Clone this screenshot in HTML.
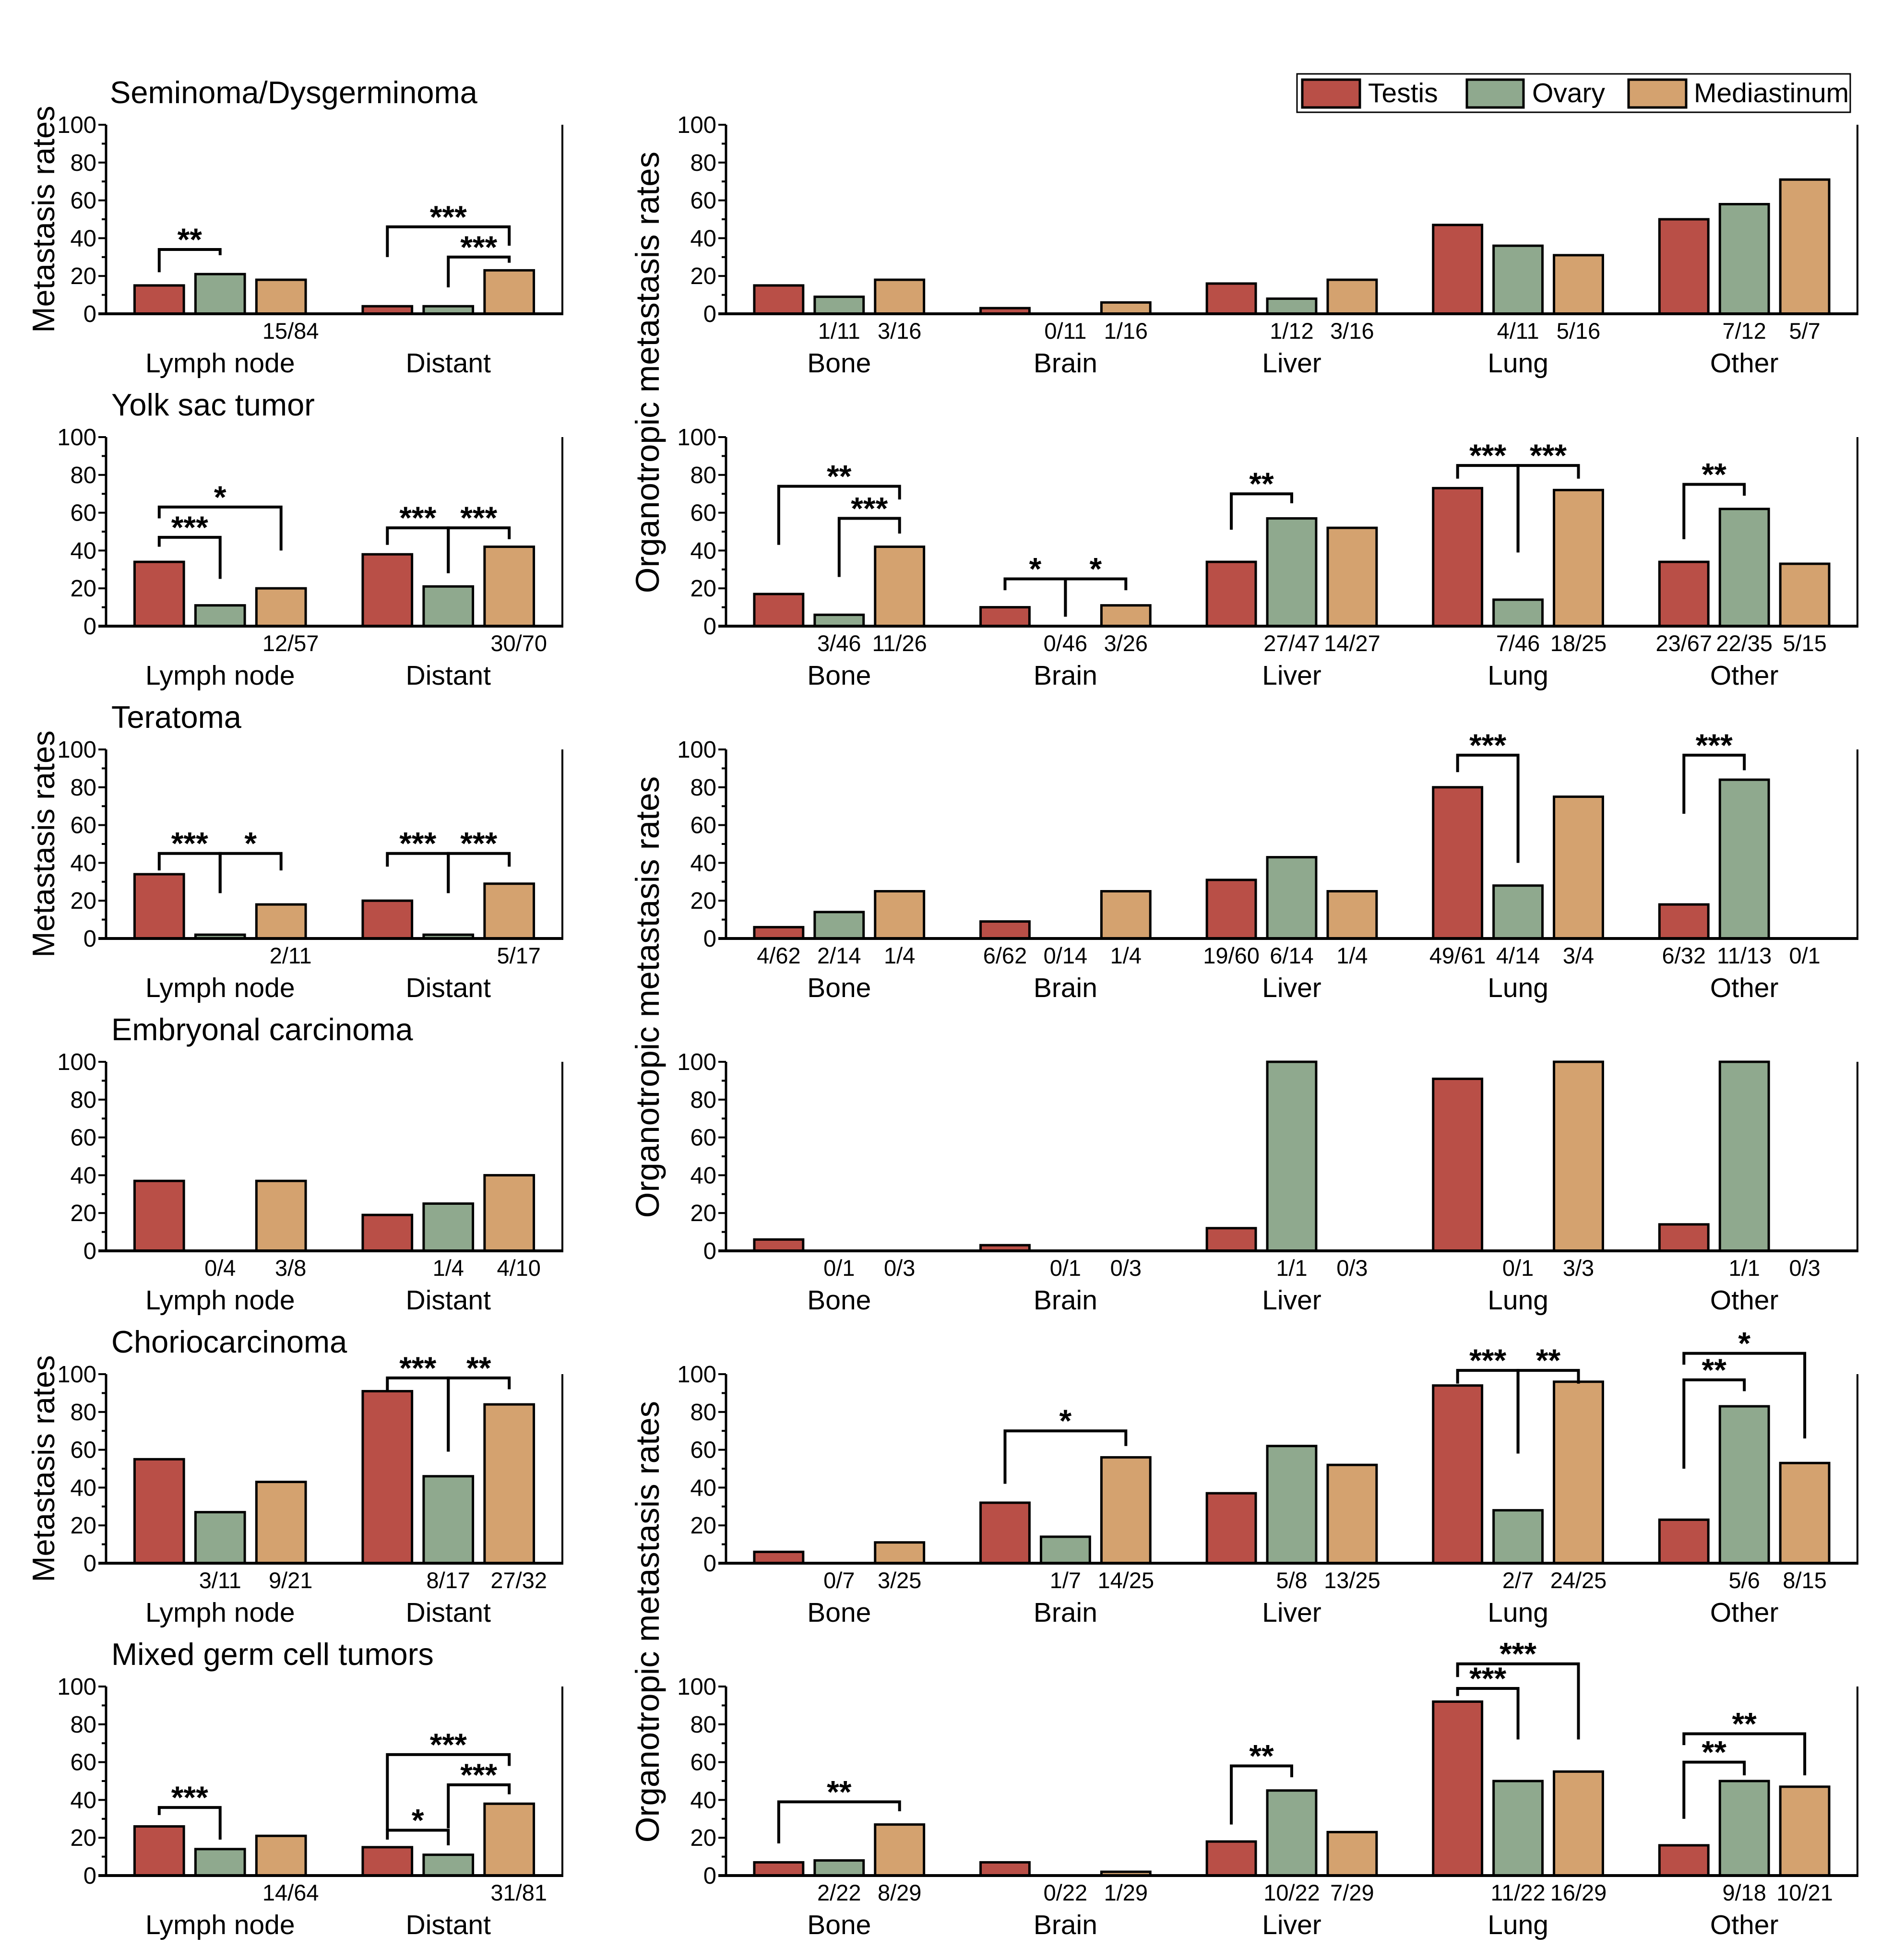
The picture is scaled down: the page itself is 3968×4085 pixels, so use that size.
<!DOCTYPE html>
<html><head><meta charset="utf-8"><style>
html,body{margin:0;padding:0;background:#fff;}
svg{display:block;font-family:"Liberation Sans",Arial,sans-serif;}
</style></head><body>
<svg id="chart" xmlns="http://www.w3.org/2000/svg" width="3968" height="4085" viewBox="0 0 3968 4085">
<rect width="3968" height="4085" fill="#fff"/>
<g>
<rect x="2703" y="154" width="1153" height="80" fill="#fff" stroke="#000" stroke-width="3"/>
<rect x="2714" y="166" width="120" height="58" fill="#b94f47" stroke="#000" stroke-width="5"/>
<text x="2851" y="213" font-size="57">Testis</text>
<rect x="3057" y="166" width="118" height="58" fill="#8fa98e" stroke="#000" stroke-width="5"/>
<text x="3193" y="213" font-size="57">Ovary</text>
<rect x="3394" y="166" width="120" height="58" fill="#d4a26f" stroke="#000" stroke-width="5"/>
<text x="3530" y="213" font-size="57">Mediastinum</text>
</g>
</svg>
<script>
const titles=["Seminoma/Dysgerminoma","Yolk sac tumor","Teratoma","Embryonal carcinoma","Choriocarcinoma","Mixed germ cell tumors"];
const leftCats=["Lymph node","Distant"];
const rightCats=["Bone","Brain","Liver","Lung","Other"];
const yTicks=[0,20,40,60,80,100];
const colors=["#b94f47","#8fa98e","#d4a26f"];
const leftVals=[
 [[15,21,18],[4,4,23]],
 [[34,11,20],[38,21,42]],
 [[34,2,18],[20,2,29]],
 [[37,0,37],[19,25,40]],
 [[55,27,43],[91,46,84]],
 [[26,14,21],[15,11,38]]
];
const leftFrac=[
 [["","","15/84"],["","",""]],
 [["","","12/57"],["","","30/70"]],
 [["","","2/11"],["","","5/17"]],
 [["","0/4","3/8"],["","1/4","4/10"]],
 [["","3/11","9/21"],["","8/17","27/32"]],
 [["","","14/64"],["","","31/81"]]
];
const leftBr=[
 [[0,0,1,34,22,31,"**"],[1,0,2,46,30,36,"***"],[1,1,2,30,14,27,"***"]],
 [[0,0,2,63,57,40,"*"],[0,0,1,47,42,25,"***"],[1,0,1,52,43,28,"***"],[1,1,2,52,28,46,"***"]],
 [[0,0,1,45,36,24,"***"],[0,1,2,45,24,36,"*"],[1,0,1,45,38,24,"***"],[1,1,2,45,24,38,"***"]],
 [],
 [[1,0,1,98,91,59,"***"],[1,1,2,98,59,92,"**"]],
 [[0,0,1,36,32,19,"***"],[1,0,1,24,19,16,"*"],[1,1,2,48,25,43,"***"],[1,0,2,64,24,58,"***"]]
];
const rightVals=[
 [[15,9,18],[3,0,6],[16,8,18],[47,36,31],[50,58,71]],
 [[17,6,42],[10,0,11],[34,57,52],[73,14,72],[34,62,33]],
 [[6,14,25],[9,0,25],[31,43,25],[80,28,75],[18,84,0]],
 [[6,0,0],[3,0,0],[12,100,0],[91,0,100],[14,100,0]],
 [[6,0,11],[32,14,56],[37,62,52],[94,28,96],[23,83,53]],
 [[7,8,27],[7,0,2],[18,45,23],[92,50,55],[16,50,47]]
];
const rightFrac=[
 [["","1/11","3/16"],["","0/11","1/16"],["","1/12","3/16"],["","4/11","5/16"],["","7/12","5/7"]],
 [["","3/46","11/26"],["","0/46","3/26"],["","27/47","14/27"],["","7/46","18/25"],["23/67","22/35","5/15"]],
 [["4/62","2/14","1/4"],["6/62","0/14","1/4"],["19/60","6/14","1/4"],["49/61","4/14","3/4"],["6/32","11/13","0/1"]],
 [["","0/1","0/3"],["","0/1","0/3"],["","1/1","0/3"],["","0/1","3/3"],["","1/1","0/3"]],
 [["","0/7","3/25"],["","1/7","14/25"],["","5/8","13/25"],["","2/7","24/25"],["","5/6","8/15"]],
 [["","2/22","8/29"],["","0/22","1/29"],["","10/22","7/29"],["","11/22","16/29"],["","9/18","10/21"]]
];
const rightBr=[
 [],
 [[0,0,2,74,43,67,"**"],[0,1,2,57,26,49,"***"],[1,0,1,25,19,5,"*"],[1,1,2,25,5,19,"*"],[2,0,1,70,51,65,"**"],[3,0,1,85,78,39,"***"],[3,1,2,85,39,78,"***"],[4,0,1,75,46,69,"**"]],
 [[3,0,1,97,88,40,"***"],[4,0,1,97,66,89,"***"]],
 [],
 [[1,0,2,70,42,62,"*"],[3,0,1,102,95,58,"***"],[3,1,2,102,58,95,"**"],[4,0,2,111,105,66,"*"],[4,0,1,97,50,91,"**"]],
 [[0,0,2,39,17,34,"**"],[2,0,1,58,27,52,"**"],[3,0,1,99,95,72,"***"],[3,0,2,112,105,72,"***"],[4,0,1,60,30,53,"**"],[4,0,2,75,69,53,"**"]]
];
const NS="http://www.w3.org/2000/svg";
const svg=document.getElementById('chart');
function mk(tag,attrs,parent,txt){const e=document.createElementNS(NS,tag);for(const k in attrs)e.setAttribute(k,attrs[k]);if(txt!==undefined)e.textContent=txt;parent.appendChild(e);return e;}
function panel(r,side){
 const y0=654+651*r, y100=260+651*r;
 const x0=side==='l'?221:1513, x1=side==='l'?1172:3871;
 const cats=side==='l'?leftCats:rightCats;
 const vals=side==='l'?leftVals[r]:rightVals[r];
 const fr=side==='l'?leftFrac[r]:rightFrac[r];
 const br=side==='l'?leftBr[r]:rightBr[r];
 const band=(x1-x0)/cats.length, pitch=band*0.267, bw=band*0.216;
 const ys=v=>y0-(y0-y100)*v/100;
 const xs=(c,s)=>x0+band*(c+0.5)+(s-1)*pitch;
 const g=mk('g',{},svg);
 
 
 if(side==='l'){
  const t=mk('text',{x:r===0?229:232,y:y100-45,'font-size':65},g,titles[r]);
  
  
 }
 for(let c=0;c<cats.length;c++){
  for(let s=0;s<3;s++){
   const v=vals[c][s];
   if(v>0){
    const b=mk('rect',{x:xs(c,s)-bw/2,y:ys(v),width:bw,height:y0-ys(v),fill:colors[s],stroke:'#000','stroke-width':5},g);
    
    
   }
   if(fr[c][s]){
    const off=(side==='l'&&s===2)?20:0;
    const f=mk('text',{x:xs(c,s)+off,y:y0+52,'font-size':47,'text-anchor':'middle'},g,fr[c][s]);
    
    
   }
  }
  const cl=mk('text',{x:xs(c,1),y:y0+122,'font-size':57,'text-anchor':'middle'},g,cats[c]);
  
  
 }
 mk('line',{x1:x0,y1:y0,x2:x0,y2:y100,stroke:'#000','stroke-width':5},g);
 mk('line',{x1:x1,y1:y0,x2:x1,y2:y100,stroke:'#000','stroke-width':4},g);
 mk('line',{x1:x0-16,y1:y0,x2:x1+2,y2:y0,stroke:'#000','stroke-width':6},g);
 for(const t of yTicks){
  mk('line',{x1:x0-16,y1:ys(t),x2:x0,y2:ys(t),stroke:'#000','stroke-width':4},g);
  const tl=mk('text',{x:x0-20,y:ys(t)+17,'font-size':49,'text-anchor':'end'},g,String(t));
  
  
  if(t<100)mk('line',{x1:x0-9,y1:ys(t+10),x2:x0,y2:ys(t+10),stroke:'#000','stroke-width':4},g);
 }
 for(const b of br){
  const [c,s1,s2,top,l1,l2,lab]=b;
  const xa=xs(c,s1), xb=xs(c,s2), yt=ys(top);
  const p=mk('polyline',{points:`${xa},${ys(l1)} ${xa},${yt} ${xb},${yt} ${xb},${ys(l2)}`,fill:'none',stroke:'#000','stroke-width':6},g);
  
  
  const st=mk('text',{x:(xa+xb)/2,y:yt+2,'font-size':66,'font-weight':'bold','text-anchor':'middle'},g,lab);
  
  
 }
}
for(let r=0;r<6;r++){panel(r,'l');panel(r,'r');}
for(const r of [0,2,4]){
 const cy=457+651*r;
 const t=mk('text',{x:113,y:cy,'font-size':65,'text-anchor':'middle',transform:`rotate(-90 113 ${cy})`},svg,'Metastasis rates');
 
 
 const cy2=776+651*r;
 const t2=mk('text',{x:1373,y:cy2,'font-size':69,'text-anchor':'middle',transform:`rotate(-90 1373 ${cy2})`},svg,'Organotropic metastasis rates');
 
 
}
</script>
</body></html>
